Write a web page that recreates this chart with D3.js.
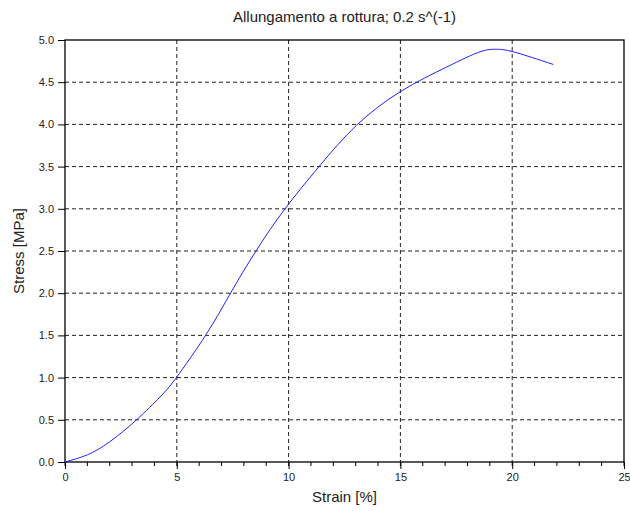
<!DOCTYPE html>
<html>
<head>
<meta charset="utf-8">
<script src="https://cdn.jsdelivr.net/npm/d3@7"></script>
<style>
  body { margin: 0; background: #fff; }
  text { font-family: "Liberation Sans", Arial, sans-serif; fill: #222; }
</style>
</head>
<body>
<div id="chart"></div>
<script>
// Data
var strain = [0, 1.0, 2.0, 3.2, 4.25, 4.98, 6.31, 7.38, 8.54, 9.84, 11.36, 13.04, 15.01, 17.07, 18.56, 19.31, 20.05, 21.84];
var stress = [0, 0.085, 0.24, 0.5, 0.77, 1.0, 1.51, 1.99, 2.5, 3.0, 3.5, 3.99, 4.39, 4.68, 4.86, 4.89, 4.86, 4.71];
var xTicks = [0, 5, 10, 15, 20, 25];
var yTicks = [0, 0.5, 1, 1.5, 2, 2.5, 3, 3.5, 4, 4.5, 5];
var xMinor = d3.range(0, 26, 1);

var width = 630, height = 511;
var margin = { top: 40, right: 6, bottom: 49, left: 65 };
var w = width - margin.left - margin.right,
    h = height - margin.top - margin.bottom;

var svg = d3.select("#chart")
    .append("svg")
    .attr("width", width)
    .attr("height", height);

var g = svg.append("g")
    .attr("transform", "translate(" + margin.left + "," + margin.top + ")");

var x = d3.scaleLinear().domain([0, 25]).range([0, w]);
var y = d3.scaleLinear().domain([0, 5]).range([h, 0]);

// grid
g.append("g").selectAll("line")
    .data(xTicks.slice(1, -1))
    .enter().append("line")
    .attr("x1", function(d) { return x(d); })
    .attr("x2", function(d) { return x(d); })
    .attr("y1", 0).attr("y2", h)
    .attr("stroke", "#222").attr("stroke-dasharray", "4,3");

g.append("g").selectAll("line")
    .data(yTicks.slice(1, -1))
    .enter().append("line")
    .attr("y1", function(d) { return y(d); })
    .attr("y2", function(d) { return y(d); })
    .attr("x1", 0).attr("x2", w)
    .attr("stroke", "#222").attr("stroke-dasharray", "4,3");

// minor ticks on x
g.append("g").selectAll("line")
    .data(xMinor)
    .enter().append("line")
    .attr("x1", function(d) { return x(d); })
    .attr("x2", function(d) { return x(d); })
    .attr("y1", h).attr("y2", h + 4)
    .attr("stroke", "#000");

// axes
var xAxis = g.append("g")
    .attr("transform", "translate(0," + h + ")")
    .call(d3.axisBottom(x).tickValues(xTicks).tickFormat(d3.format("d")).tickSize(7).tickPadding(4));

var yAxis = g.append("g")
    .call(d3.axisLeft(y).tickValues(yTicks).tickFormat(d3.format(".1f")).tickSize(7).tickPadding(4));

[xAxis, yAxis].forEach(function(a) {
    a.select(".domain").remove();
    a.selectAll("line").attr("stroke", "#000");
    a.selectAll("text")
        .style("font-family", "'Liberation Sans', Arial, sans-serif")
        .style("font-size", "11px")
        .attr("fill", "#222");
});

// frame
g.append("rect")
    .attr("width", w).attr("height", h)
    .attr("fill", "none").attr("stroke", "#000").attr("stroke-width", 1.3);

// curve
var line = d3.line()
    .x(function(d, i) { return x(strain[i]); })
    .y(function(d, i) { return y(stress[i]); })
    .curve(d3.curveNatural);

g.append("path")
    .datum(stress)
    .attr("d", line)
    .attr("fill", "none")
    .attr("stroke", "#2222ff")
    .attr("stroke-width", 1);

// labels
svg.append("text")
    .attr("x", margin.left + w / 2).attr("y", 22)
    .attr("text-anchor", "middle")
    .style("font-size", "15px")
    .text("Allungamento a rottura; 0.2 s^(-1)");

svg.append("text")
    .attr("x", margin.left + w / 2).attr("y", 502)
    .attr("text-anchor", "middle")
    .style("font-size", "15px")
    .text("Strain [%]");

svg.append("text")
    .attr("transform", "translate(24," + (margin.top + h / 2) + ") rotate(-90)")
    .attr("text-anchor", "middle")
    .style("font-size", "15px")
    .text("Stress [MPa]");
</script>
</body>
</html>
